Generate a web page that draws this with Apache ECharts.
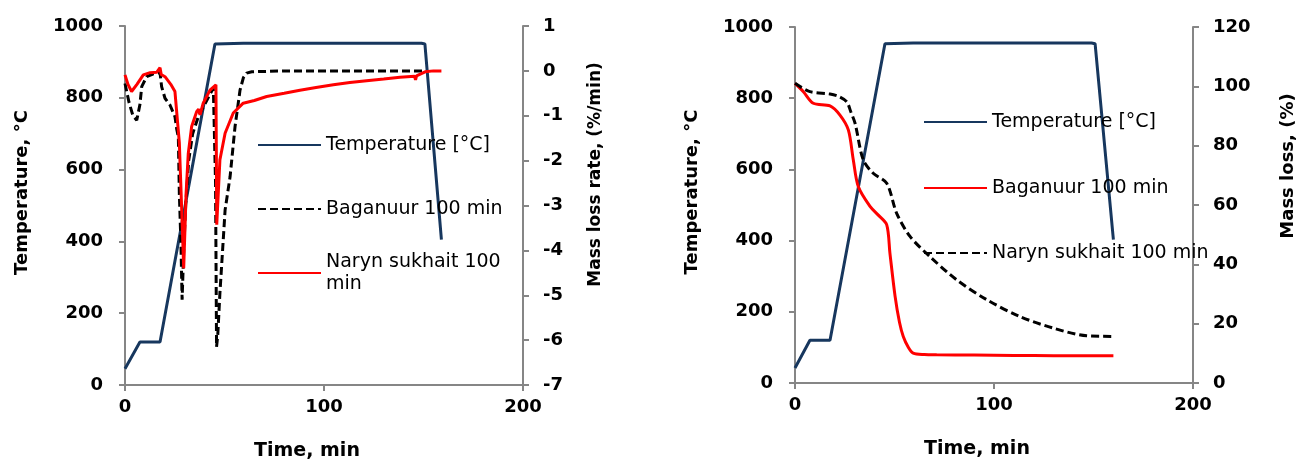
<!DOCTYPE html>
<html><head><meta charset="utf-8">
<script src="https://cdn.jsdelivr.net/npm/echarts/dist/echarts.min.js"></script>
<style>html,body{margin:0;padding:0;background:#fff;overflow:hidden}#a,#b{position:absolute;top:0;width:649px;height:461px}#a{left:0}#b{left:649px}</style>
</head><body><div id="a"></div><div id="b"></div>
<script>
// ---------- data ----------
const xTicks = [0, 100, 200];
const tempTicks = [0, 200, 400, 600, 800, 1000];
const rateTicks = [-7, -6, -5, -4, -3, -2, -1, 0, 1];
const lossTicks = [0, 20, 40, 60, 80, 100, 120];

// left panel: temperature profile
const tempTimeL = [0, 7.5, 17.6, 45.2, 59.4, 149, 150.7, 159];
const tempValL  = [45, 120, 120, 950, 952, 952, 950, 405];
// left panel: mass loss rate, Baganuur (black dashed)
const bagRateTime = [0, 2, 4, 5.9, 7.5, 8.4, 10.9, 14, 17.6, 18.4, 20.1, 22.6, 25.1, 26, 26.8, 27.3, 28.1, 28.7, 29.5, 30.5, 32, 34, 37, 40, 43, 44.4, 45.5, 46, 46.6, 47.7, 50.3, 52.8, 55.3, 57.8, 59.5, 61.1, 63.7, 80, 100, 120, 140, 150];
const bagRateVal  = [-0.28, -0.7, -1.0, -1.1, -0.75, -0.35, -0.13, -0.07, -0.04, -0.35, -0.61, -0.76, -1.02, -1.3, -1.47, -2.73, -3.84, -5.1, -4.0, -3.0, -2.0, -1.4, -1.0, -0.75, -0.5, -0.39, -2.5, -6.15, -5.9, -4.95, -3.1, -2.36, -1.24, -0.43, -0.15, -0.05, -0.02, 0, 0, 0, 0, 0];
// left panel: mass loss rate, Naryn sukhait (red)
const narRateTime = [0, 1.5, 3.3, 6, 9.2, 12.6, 16, 17.6, 18.2, 20.1, 23, 25.1, 26, 27.3, 28.5, 29.5, 30.7, 31.8, 33.5, 36, 37, 37.7, 39.3, 42.7, 45.7, 46.1, 46.9, 47.7, 50.3, 54.4, 59.4, 65, 71.2, 80, 87.9, 96, 104.7, 113, 121.4, 130, 138.2, 145.5, 146, 146.5, 150.8, 155, 159];
const narRateVal  = [-0.09, -0.3, -0.46, -0.3, -0.09, -0.04, -0.03, 0.07, -0.08, -0.13, -0.3, -0.46, -0.5, -1.6, -3.1, -4.4, -2.73, -1.84, -1.24, -0.91, -0.85, -0.98, -0.72, -0.43, -0.31, -3.43, -2.7, -1.98, -1.39, -0.94, -0.72, -0.66, -0.57, -0.5, -0.43, -0.37, -0.31, -0.26, -0.22, -0.18, -0.14, -0.12, -0.2, -0.11, -0.02, 0, 0];

// right panel: temperature profile
const tempTimeR = [0, 7.5, 17.6, 45.2, 59.4, 149, 150.8, 160];
const tempValR  = [42, 120, 120, 953, 955, 955, 953, 403];
// right panel: mass loss, Baganuur (red)
const bagLossTime = [0, 4.2, 9.2, 17.6, 22.6, 26.8, 29.3, 31.8, 37.7, 42, 46.1, 47.7, 50.3, 52.5, 54.4, 57, 59.4, 65, 71.2, 90, 110, 130, 150, 160];
const bagLossVal  = [101, 98.2, 94.3, 93.4, 90.3, 85.3, 75.2, 66.2, 59.5, 56.5, 53.3, 43.8, 29.2, 20.5, 15.7, 12, 10.1, 9.6, 9.5, 9.4, 9.3, 9.2, 9.2, 9.2];
// right panel: mass loss, Naryn sukhait (black dashed)
const narLossTime = [0, 7.5, 17.6, 22, 26, 28, 30.2, 34.3, 39.3, 46.1, 51.1, 57.8, 67.8, 81.2, 96.3, 113, 129.8, 146.6, 160];
const narLossVal  = [101, 98.2, 97.4, 96.6, 94.8, 91.5, 87.5, 75.2, 70.7, 67.3, 57.2, 49.4, 42.6, 34.8, 28.1, 22.4, 18.5, 15.9, 15.7];

// ---------- helpers ----------
const FONT = 'DejaVu Sans';
const AX = '#868686';
const zip = (a, b) => a.map((v, i) => [v, b[i]]);

function xAxisCfg() {
  return {
    type: 'value', min: xTicks[0], max: xTicks[xTicks.length - 1], interval: xTicks[1] - xTicks[0],
    name: 'Time, min', nameLocation: 'middle', nameGap: 57,
    nameTextStyle: {fontFamily: FONT, fontWeight: 'bold', fontSize: 19, color: '#000', padding: [0, 34, 0, 0]},
    axisLine: {show: true, lineStyle: {color: AX, width: 2}},
    axisTick: {show: true, length: 6, lineStyle: {color: AX, width: 2}},
    splitLine: {show: false},
    axisLabel: {fontFamily: FONT, fontWeight: 'bold', fontSize: 18, color: '#000', margin: 13, formatter: v => String(v)}
  };
}
function yAxisCfg(ticks, pos, name, gap, margin, pad, fs) {
  return {
    type: 'value', position: pos, min: ticks[0], max: ticks[ticks.length - 1], interval: ticks[1] - ticks[0],
    name: name, nameLocation: 'middle', nameGap: gap,
    nameTextStyle: {fontFamily: FONT, fontWeight: 'bold', fontSize: fs, color: '#000', padding: pad},
    axisLine: {show: true, onZero: false, lineStyle: {color: AX, width: 2}},
    axisTick: {show: true, length: 6, lineStyle: {color: AX, width: 2}},
    splitLine: {show: false},
    axisLabel: {fontFamily: FONT, fontWeight: 'bold', fontSize: 18, color: '#000', margin: margin, formatter: v => String(v)}
  };
}
function legendCfg(name, left, top, pad, fmt) {
  const l = {
    data: [name], left: left, top: top, orient: 'vertical', padding: 0,
    itemWidth: 63, itemHeight: 22, itemGap: 0, selectedMode: false,
    itemStyle: {opacity: 0},
    textStyle: {fontFamily: FONT, fontSize: 19, color: '#000', lineHeight: 22}
  };
  if (pad) l.textStyle.padding = pad;
  if (fmt) l.formatter = fmt;
  return l;
}
const tempStyle = {color: '#17375E', width: 3};
const redStyle = {color: '#FF0000', width: 3};
const blackStyle = {color: '#000000', width: 3, type: [8, 4]};
function ser(name, data, style, yIdx, smooth) {
  return {
    type: 'line', name: name, data: data, yAxisIndex: yIdx, showSymbol: false, symbol: 'none',
    smooth: smooth || false, lineStyle: style, itemStyle: {color: style.color}, z: 2
  };
}

// ---------- left chart ----------
const chartA = echarts.init(document.getElementById('a'), null, {renderer: 'canvas'});
chartA.setOption({
  animation: false,
  grid: {left: 125, right: 126, top: 26, bottom: 76, containLabel: false, outerBoundsMode: 'none'},
  xAxis: xAxisCfg(),
  yAxis: [
    yAxisCfg(tempTicks, 'left', 'Temperature, °C', 94, 22, [0, 0, 0, 26], 18),
    yAxisCfg(rateTicks, 'right', 'Mass loss rate, (%/min)', 64, 20, [0, 0, 0, 62], 17)
  ],
  legend: [
    legendCfg('Temperature [°C]', 257, 134),
    legendCfg('Baganuur 100 min', 257, 198),
    legendCfg('Naryn sukhait 100 min', 257, 240, [22, 0, 0, 0], () => 'Naryn sukhait 100\nmin')
  ],
  series: [
    ser('Temperature [°C]', zip(tempTimeL, tempValL), tempStyle, 0),
    ser('Baganuur 100 min', zip(bagRateTime, bagRateVal), blackStyle, 1),
    ser('Naryn sukhait 100 min', zip(narRateTime, narRateVal), redStyle, 1)
  ]
});

// ---------- right chart ----------
const chartB = echarts.init(document.getElementById('b'), null, {renderer: 'canvas'});
chartB.setOption({
  animation: false,
  grid: {left: 146, right: 105, top: 27, bottom: 78, containLabel: false, outerBoundsMode: 'none'},
  xAxis: xAxisCfg(),
  yAxis: [
    yAxisCfg(tempTicks, 'left', 'Temperature, °C', 94, 22, [0, 0, 0, 26], 18),
    yAxisCfg(lossTicks, 'right', 'Mass loss, (%)', 86, 20, [0, 0, 0, 78], 18)
  ],
  legend: [
    legendCfg('Temperature [°C]', 274, 111),
    legendCfg('Baganuur 100 min', 274, 177),
    legendCfg('Naryn sukhait 100 min', 274, 242)
  ],
  series: [
    ser('Temperature [°C]', zip(tempTimeR, tempValR), tempStyle, 0),
    ser('Baganuur 100 min', zip(bagLossTime, bagLossVal), redStyle, 1, 0.3),
    ser('Naryn sukhait 100 min', zip(narLossTime, narLossVal), blackStyle, 1, 0.3)
  ]
});
</script></body></html>
